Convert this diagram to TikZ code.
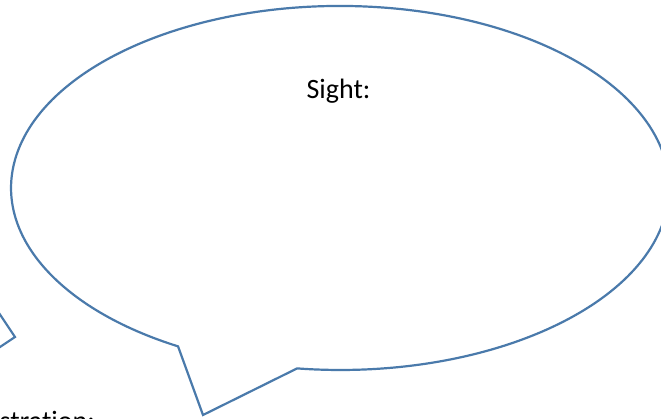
\documentclass[tikz,border=0pt]{standalone}
\usepackage{fontspec}
\setmainfont{Carlito}[Ligatures=NoCommon]
\definecolor{bubble}{HTML}{4A7AAB}
\begin{document}
\begin{tikzpicture}[x=1pt,y=1pt,
  bubbleline/.style={draw=bubble,line width=2.2pt,line join=miter},
  label/.style={inner sep=0pt,font=\fontsize{28}{34}\selectfont,text=black}]
\clip (0,0) rectangle (661,418);
\fill[white] (0,0) rectangle (661,418);
% main speech bubble
\draw[bubbleline] (297.1,49.6) arc[start angle=262.5,end angle=600.5,x radius=329,y radius=182] -- (203,3) -- cycle;
% partial bubble at left edge
\draw[bubbleline] (-3,108) -- (15,81) -- (-3,69);
\node[label,anchor=base] (sight) at (338.5,319) {Sight:};
\node[label,anchor=base west] (illus) at (-0.5,-12) {stration:};
\end{tikzpicture}
\end{document}
